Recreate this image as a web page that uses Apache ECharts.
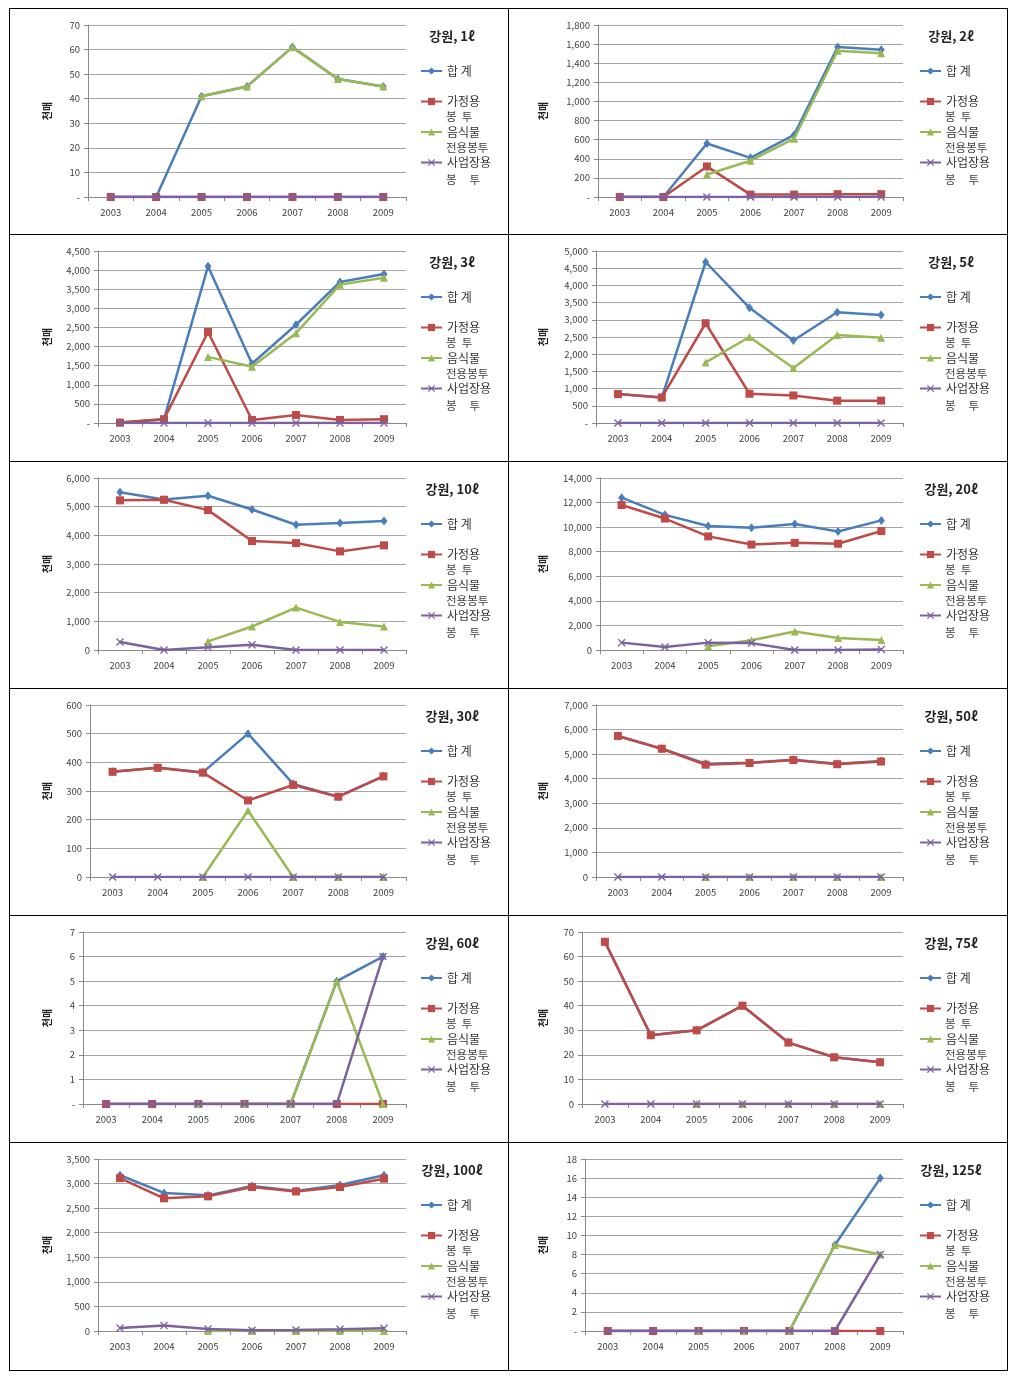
<!DOCTYPE html>
<html><head><meta charset="utf-8">
<script src="https://cdn.jsdelivr.net/npm/echarts@6/dist/echarts.min.js"></script>
<style>
html,body{margin:0;padding:0;background:#fff;}
.cell{position:absolute;border:1px solid #000;box-sizing:border-box;}
.chart{position:absolute;}
</style></head><body>
<script>
// ---------- data ----------
const years = ['2003','2004','2005','2006','2007','2008','2009'];
const seriesNames = ['합 계', '가정용 봉 투', '음식물 전용봉투', '사업장용 봉 투'];
const legendMain = ['합 계', '가정용', '음식물', '사업장용'];
const legendSub = ['', '봉  투', '전용봉투', '봉     투'];
const N = null;

const total_1 = [0, 0, 41, 45, 61, 48, 45];
const home_1 = [0, 0, 0, 0, 0, 0, 0];
const food_1 = [N, N, 41, 45, 61, 48, 45];
const biz_1 = [0, 0, 0, 0, 0, 0, 0];

const total_2 = [0, 0, 560, 410, 650, 1570, 1540];
const home_2 = [0, 0, 320, 25, 25, 30, 30];
const food_2 = [N, N, 235, 380, 610, 1530, 1505];
const biz_2 = [0, 0, 0, 0, 0, 0, 0];

const total_3 = [10, 100, 4100, 1550, 2570, 3690, 3900];
const home_3 = [10, 100, 2380, 80, 210, 80, 100];
const food_3 = [N, N, 1730, 1470, 2350, 3620, 3800];
const biz_3 = [0, 0, 0, 0, 0, 0, 0];

const total_5 = [840, 740, 4680, 3350, 2400, 3220, 3140];
const home_5 = [840, 740, 2900, 850, 800, 650, 650];
const food_5 = [N, N, 1760, 2500, 1600, 2560, 2480];
const biz_5 = [0, 0, 0, 0, 0, 0, 0];

const total_10 = [5500, 5250, 5380, 4900, 4370, 4430, 4500];
const home_10 = [5220, 5240, 4880, 3800, 3730, 3440, 3650];
const food_10 = [N, N, 300, 820, 1480, 980, 820];
const biz_10 = [280, 0, 100, 180, 0, 0, 0];

const total_20 = [12400, 11000, 10100, 9950, 10250, 9650, 10550];
const home_20 = [11800, 10700, 9250, 8580, 8720, 8650, 9680];
const food_20 = [N, N, 300, 800, 1500, 980, 820];
const biz_20 = [600, 250, 600, 560, 0, 0, 50];

const total_30 = [367, 381, 365, 500, 325, 280, 352];
const home_30 = [367, 381, 364, 267, 321, 280, 351];
const food_30 = [N, N, 0, 232, 0, 0, 0];
const biz_30 = [0, 0, 0, 0, 0, 0, 0];

const total_50 = [5740, 5220, 4610, 4650, 4770, 4610, 4720];
const home_50 = [5740, 5220, 4570, 4640, 4760, 4590, 4700];
const food_50 = [N, N, 0, 0, 0, 0, 0];
const biz_50 = [0, 0, 0, 0, 0, 0, 0];

const total_60 = [0, 0, 0, 0, 0, 5, 6];
const home_60 = [0, 0, 0, 0, 0, 0, 0];
const food_60 = [N, N, 0, 0, 0, 5, 0];
const biz_60 = [0, 0, 0, 0, 0, 0, 6];

const total_75 = [66, 28, 30, 40, 25, 19, 17];
const home_75 = [66, 28, 30, 40, 25, 19, 17];
const food_75 = [N, N, 0, 0, 0, 0, 0];
const biz_75 = [0, 0, 0, 0, 0, 0, 0];

const total_100 = [3170, 2810, 2760, 2950, 2850, 2970, 3170];
const home_100 = [3110, 2700, 2740, 2930, 2840, 2930, 3100];
const food_100 = [N, N, 0, 0, 0, 0, 0];
const biz_100 = [60, 110, 40, 15, 20, 35, 55];

const total_125 = [0, 0, 0, 0, 0, 9, 16];
const home_125 = [0, 0, 0, 0, 0, 0, 0];
const food_125 = [N, N, 0, 0, 0, 9, 8];
const biz_125 = [0, 0, 0, 0, 0, 0, 8];

const panels = [
  {title: '강원, 1ℓ', data: [total_1, home_1, food_1, biz_1], yMax: 70, yStep: 10, dashZero: true},
  {title: '강원, 2ℓ', data: [total_2, home_2, food_2, biz_2], yMax: 1800, yStep: 200, dashZero: true},
  {title: '강원, 3ℓ', data: [total_3, home_3, food_3, biz_3], yMax: 4500, yStep: 500, dashZero: true},
  {title: '강원, 5ℓ', data: [total_5, home_5, food_5, biz_5], yMax: 5000, yStep: 500, dashZero: true},
  {title: '강원, 10ℓ', data: [total_10, home_10, food_10, biz_10], yMax: 6000, yStep: 1000, dashZero: false},
  {title: '강원, 20ℓ', data: [total_20, home_20, food_20, biz_20], yMax: 14000, yStep: 2000, dashZero: false},
  {title: '강원, 30ℓ', data: [total_30, home_30, food_30, biz_30], yMax: 600, yStep: 100, dashZero: false},
  {title: '강원, 50ℓ', data: [total_50, home_50, food_50, biz_50], yMax: 7000, yStep: 1000, dashZero: false},
  {title: '강원, 60ℓ', data: [total_60, home_60, food_60, biz_60], yMax: 7, yStep: 1, dashZero: true},
  {title: '강원, 75ℓ', data: [total_75, home_75, food_75, biz_75], yMax: 70, yStep: 10, dashZero: false},
  {title: '강원, 100ℓ', data: [total_100, home_100, food_100, biz_100], yMax: 3500, yStep: 500, dashZero: false},
  {title: '강원, 125ℓ', data: [total_125, home_125, food_125, biz_125], yMax: 18, yStep: 2, dashZero: true}
];

// ---------- layout ----------
const rowY = [8, 234, 461, 688, 915, 1142, 1370];
const colX = [9, 508, 1007];
const plotLeft = [78, 89, 88, 87, 88, 91, 80, 87, 73, 73, 88, 76];
const plotRight = [396, 394, 396, 394, 396, 394, 396, 394, 396, 394, 396, 394];
const nameGaps = [36, 50, 46, 48, 46, 52, 38, 48, 31, 34, 46, 37];

const colors = ['#4A7EBB', '#BE4B48', '#98B954', '#7D60A0'];
const xPath = 'path://M0,1.2L1.2,0L5,3.8L8.8,0L10,1.2L6.2,5L10,8.8L8.8,10L5,6.2L1.2,10L0,8.8L3.8,5Z';
const symbols = ['diamond', 'rect', 'triangle', xPath];
const symSizes = [[7, 9], 8, 8, 8];
const FONT = '"Noto Sans CJK KR", "Noto Sans", sans-serif';

panels.forEach((p, idx) => {
  const r = Math.floor(idx / 2), c = idx % 2;
  const cell = document.createElement('div');
  cell.className = 'cell';
  cell.style.left = colX[c] + 'px';
  cell.style.top = rowY[r] + 'px';
  cell.style.width = (colX[c + 1] - colX[c] + 1) + 'px';
  cell.style.height = (rowY[r + 1] - rowY[r] + 1) + 'px';
  document.body.appendChild(cell);
  const div = document.createElement('div');
  div.className = 'chart';
  div.style.left = (colX[c] + 1) + 'px';
  div.style.top = (rowY[r] + 1) + 'px';
  div.style.width = (colX[c + 1] - colX[c] - 1) + 'px';
  div.style.height = (rowY[r + 1] - rowY[r] - 1) + 'px';
  document.body.appendChild(div);
  const chart = echarts.init(div, null, {renderer: 'canvas'});

  const graphic = [{
    type: 'text', x: 442, y: 27,
    style: {text: p.title, font: 'bold 13px ' + FONT, fill: '#222', textAlign: 'center', textVerticalAlign: 'middle'}
  }];
  const subY = [0, 108, 139, 171];
  legendSub.forEach((s, i) => {
    if (!s) return;
    graphic.push({type: 'text', x: 436, y: subY[i],
      style: {text: s, font: '11.5px ' + FONT, fill: '#444', textVerticalAlign: 'middle'}});
  });

  chart.setOption({
    animation: false,
    grid: {left: plotLeft[idx], top: 16, width: plotRight[idx] - plotLeft[idx], height: 172},
    xAxis: {
      type: 'category', data: years, boundaryGap: true,
      axisLine: {lineStyle: {color: '#8a8a8a'}},
      axisTick: {show: true, length: 4, lineStyle: {color: '#8a8a8a'}},
      axisLabel: {color: '#404040', fontSize: 9.5, margin: 11, fontFamily: FONT}
    },
    yAxis: {
      type: 'value', min: 0, max: p.yMax, interval: p.yStep,
      name: '천매', nameLocation: 'middle', nameRotate: 90, nameGap: nameGaps[idx],
      nameTextStyle: {fontWeight: 'bold', fontSize: 10, color: '#222', fontFamily: FONT},
      axisLine: {show: true, lineStyle: {color: '#8a8a8a'}},
      axisTick: {show: true, length: 4, lineStyle: {color: '#8a8a8a'}},
      splitLine: {lineStyle: {color: '#a6a6a6'}},
      axisLabel: {
        color: '#404040', fontSize: 9.5, margin: 8, fontFamily: FONT,
        formatter: v => (v === 0 && p.dashZero) ? '-' : v.toLocaleString('en-US')
      }
    },
    legend: {
      orient: 'vertical', left: 405, top: 51, itemWidth: 21, itemHeight: 9, itemGap: 18.5,
      selectedMode: false, data: seriesNames,
      formatter: n => legendMain[seriesNames.indexOf(n)],
      textStyle: {fontSize: 12, lineHeight: 12, color: '#333', fontFamily: FONT}
    },
    graphic: graphic,
    series: seriesNames.map((n, i) => ({
      type: 'line', name: n, data: p.data[i],
      symbol: symbols[i], symbolSize: symSizes[i],
      showAllSymbol: true,
      lineStyle: {width: 2.5, color: colors[i]},
      itemStyle: {color: colors[i]},
      connectNulls: false, z: 2 + i
    }))
  });
});
</script>
</body></html>
